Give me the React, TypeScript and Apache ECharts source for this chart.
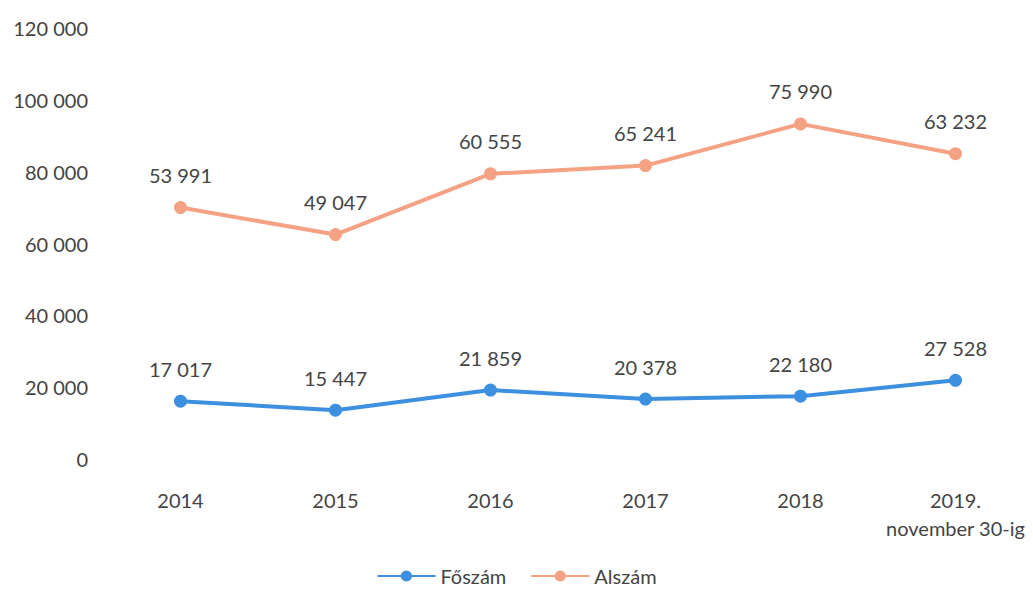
import React, { useEffect, useRef } from "react";
import * as echarts from "echarts";

const categories = ["2014", "2015", "2016", "2017", "2018", "2019.\nnovember 30-ig"];
const foszamValues = [16100, 13600, 19200, 16700, 17500, 21900];
const foszamLabels = ["17 017", "15 447", "21 859", "20 378", "22 180", "27 528"];
const alszamValues = [70000, 62500, 79400, 81700, 93300, 85000];
const alszamLabels = ["53 991", "49 047", "60 555", "65 241", "75 990", "63 232"];

const FONT = "Lato";
const TEXT = "#444444";

const fmtTick = (v: number) => {
  const s = String(Math.round(v));
  return s.replace(/\B(?=(\d{3})+(?!\d))/g, " ");
};

export default function App() {
  const ref = useRef<HTMLDivElement>(null);
  useEffect(() => {
    if (!ref.current) return;
    const chart = echarts.init(ref.current, null, { renderer: "svg" });
    const mkSeries = (name: string, data: number[], labels: string[], color: string) => ({
      name,
      type: "line",
      data,
      symbol: "circle",
      symbolSize: 13,
      lineStyle: { width: 4, color },
      itemStyle: { color },
      label: {
        show: true,
        position: "top",
        distance: 16,
        fontFamily: FONT,
        fontSize: 20,
        color: TEXT,
        formatter: (p: any) => labels[p.dataIndex],
      },
    });
    chart.setOption({
      animation: false,
      textStyle: { fontFamily: FONT },
      grid: { left: 103, right: 0, top: 28, bottom: 134, containLabel: false },
      xAxis: {
        type: "category",
        data: categories,
        boundaryGap: true,
        axisLine: { show: false },
        axisTick: { show: false },
        axisLabel: {
          interval: 0,
          margin: 27,
          fontFamily: FONT,
          fontSize: 20,
          color: TEXT,
          lineHeight: 28,
        },
      },
      yAxis: {
        type: "value",
        min: 0,
        max: 120000,
        interval: 20000,
        splitLine: { show: false },
        axisLine: { show: false },
        axisTick: { show: false },
        axisLabel: {
          margin: 15,
          fontFamily: FONT,
          fontSize: 20,
          color: TEXT,
          formatter: fmtTick,
        },
      },
      legend: {
        bottom: 2,
        left: "center",
        itemWidth: 58,
        itemHeight: 14,
        itemGap: 24,
        textStyle: { fontFamily: FONT, fontSize: 20, color: TEXT },
        data: ["Főszám", "Alszám"],
      },
      series: [
        mkSeries("Főszám", foszamValues, foszamLabels, "#3d8fe0"),
        mkSeries("Alszám", alszamValues, alszamLabels, "#f4a283"),
      ],
    });
    return () => chart.dispose();
  }, []);
  return <div ref={ref} style={{ width: 1033, height: 593, margin: -8 }} />;
}
